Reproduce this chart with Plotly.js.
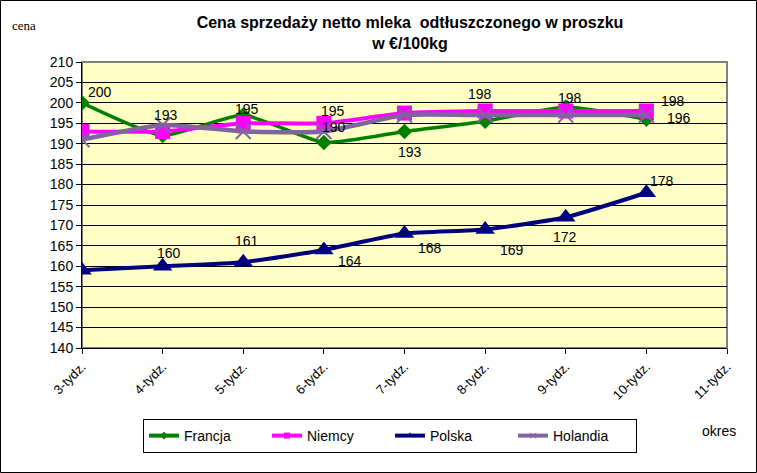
<!DOCTYPE html>
<html><head><meta charset="utf-8">
<script src="https://cdn.plot.ly/plotly-3.0.1.min.js"></script>
<style>body{margin:0;padding:0;background:#fff}#chart{width:757px;height:473px}</style>
</head><body><div id="chart"></div>
<script>
const categories = ["3-tydz.","4-tydz.","5-tydz.","6-tydz.","7-tydz.","8-tydz.","9-tydz.","10-tydz.","11-tydz."];
const weeks = ["3-tydz.","4-tydz.","5-tydz.","6-tydz.","7-tydz.","8-tydz.","9-tydz.","10-tydz."];
const seriesNames = ["Francja","Niemcy","Polska","Holandia"];
const francja = [200, 192, 197, 190.3, 193, 195.5, 199, 196];
const niemcy = [193, 193, 195, 195, 197.5, 198, 198, 198];
const polska = [159, 160, 161, 164, 168, 169, 172, 178];
const holandia = [191, 194.6, 193, 193, 197, 197, 197, 197];
// data labels: [series, point index]
const labelSeries = ["francja","niemcy","niemcy","niemcy","francja","francja","niemcy","niemcy","niemcy","francja",
                     "polska","polska","polska","polska","polska","polska","polska"];
const labelIndex = [0,1,2,3,3,4,5,6,7,7, 1,2,3,4,5,6,7];

const series = {francja, niemcy, polska, holandia};
const offsets = [[18,11],[3,16],[4,14],[9,12],[10,15],[5,-21],[-5,17],[4,13],[27,10],[33,1],
                 [6,13],[4,21],[26,-11],[25,-14],[27,-20],[-1,-20],[16,12]];

const annotations = labelSeries.map((s,i)=>({
  x: weeks[labelIndex[i]], y: series[s][labelIndex[i]], xref:'x', yref:'y',
  text: String(Math.round(series[s][labelIndex[i]])), showarrow:false,
  xshift: offsets[i][0], yshift: offsets[i][1],
  font:{family:'Liberation Sans, Arial', size:14, color:'#000'}
}));
annotations.push({xref:'paper', yref:'paper', x:(10-82)/645, y:(348-25)/286, xanchor:'left', yanchor:'middle',
  text:'cena', showarrow:false, font:{family:'Liberation Serif, Times New Roman', size:13, color:'#000'}});
annotations.push({xref:'paper', yref:'paper', x:(700-82)/645, y:(348-431)/286, xanchor:'left', yanchor:'middle',
  text:'okres', showarrow:false, font:{family:'Liberation Sans, Arial', size:14, color:'#000'}});

const colors = ['#008000','#FF00FF','#000080','#8064A2'];
const symbols = ['diamond','square','triangle-up','x-thin'];
const sizes = [12,15,17,15];
const widths = [3.5,4,4,4.5];
const dataArr = [francja, niemcy, polska, holandia];

const traces = dataArr.map((d,i)=>({
  name:seriesNames[i], x:weeks, y:d, type:'scatter', mode:'lines+markers', showlegend:false,
  line:{color:colors[i], width:widths[i], shape:'spline', smoothing:0.5},
  marker:{symbol:symbols[i], size:sizes[i], color:colors[i], line:{color:colors[i], width: i===3?2:0}}
}));
// legend entries with small markers
dataArr.forEach((d,i)=>traces.push({
  name:seriesNames[i], x:[null], y:[null], type:'scatter', mode:'lines+markers', showlegend:true,
  line:{color:colors[i], width:4},
  marker:{symbol:symbols[i], size:6, color:colors[i], line:{color:colors[i], width: i===3?1:0}}
}));

const layout = {
  width:757, height:473,
  margin:{l:82, r:30, t:62, b:125, pad:0},
  paper_bgcolor:'#ffffff', plot_bgcolor:'#FFFFC6',
  font:{family:'Liberation Sans, Arial', size:13, color:'#000'},
  title:{text:'<b>Cena sprzedaży netto mleka  odtłuszczonego w proszku<br>w €/100kg</b>', x:(410)/757, xanchor:'center', y:1-28/473, yanchor:'middle',
    font:{family:'Liberation Sans, Arial', size:16, color:'#000'}},
  showlegend:true,
  legend:{orientation:'h', x:(143-82)/645, y:(348-419)/286, xanchor:'left', yanchor:'top',
    bordercolor:'#000', borderwidth:1, bgcolor:'#fff', entrywidth:78, tracegroupgap:0, itemwidth:30,
    font:{family:'Liberation Sans, Arial', size:14, color:'#000'}},
  xaxis:{type:'category', categoryorder:'array', categoryarray:categories, range:[0,8], automargin:false,
    showgrid:false, zeroline:false, showline:true, linecolor:'#000', linewidth:1,
    ticks:'outside', ticklen:5, tickcolor:'#000', tickangle:-45, tickvals:categories, ticktext:categories,
    tickfont:{family:'Liberation Sans, Arial', size:13, color:'#000'}},
  yaxis:{range:[140,210], dtick:5, tick0:140, showgrid:true, gridcolor:'#000', gridwidth:1, automargin:false,
    zeroline:false, showline:true, linecolor:'#000', linewidth:1, ticks:'outside', ticklen:5, tickcolor:'#000',
    tickfont:{family:'Liberation Sans, Arial', size:14, color:'#000'}},
  shapes:[
    {type:'rect', xref:'paper', yref:'paper', x0:0, x1:1, y0:0, y1:1, line:{color:'#808080', width:2}, layer:'below'},
    {type:'rect', xref:'paper', yref:'paper', x0:(0.5-82)/645, x1:(756.5-82)/645, y0:(348-472.5)/286, y1:(348-0.5)/286,
     line:{color:'#000', width:1}, layer:'above'}
  ],
  annotations: annotations
};
Plotly.newPlot('chart', traces, layout, {displayModeBar:false, staticPlot:true});
</script></body></html>
